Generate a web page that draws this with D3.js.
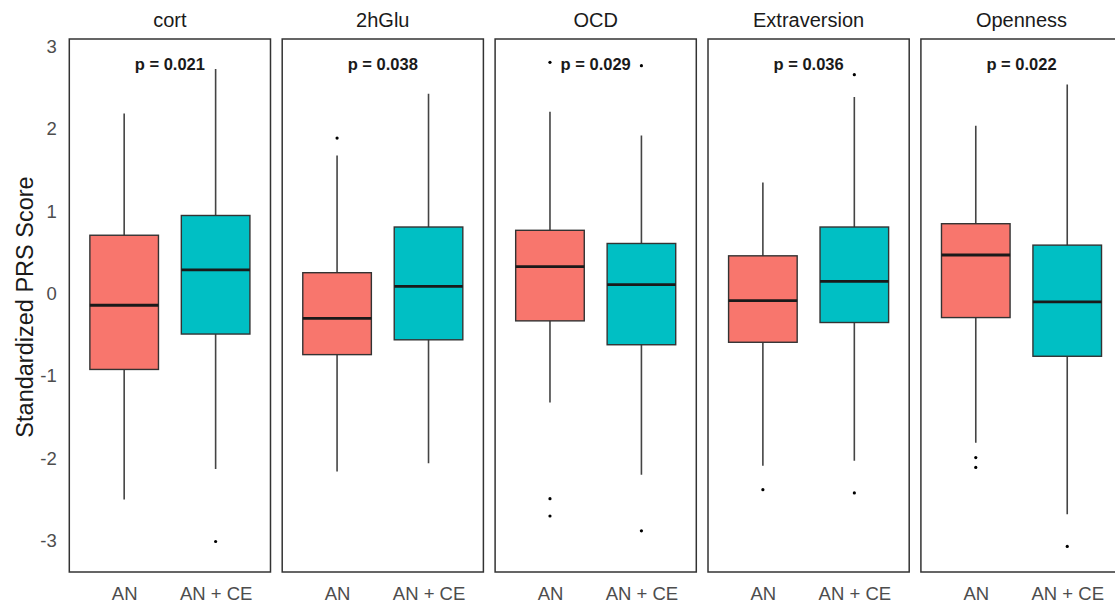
<!DOCTYPE html>
<html>
<head>
<meta charset="utf-8">
<script src="https://cdn.jsdelivr.net/npm/d3@7"></script>
<style>
  html, body { margin: 0; padding: 0; background: #fff; }
  svg { display: block; font-family: "Liberation Sans", Arial, sans-serif; }
</style>
</head>
<body>
<svg id="chart" width="1115" height="605"></svg>
<script>
// Facet panels and groups
const panels = ["cort", "2hGlu", "OCD", "Extraversion", "Openness"];
const groups = ["AN", "AN + CE"];
const pLabels = ["p = 0.021", "p = 0.038", "p = 0.029", "p = 0.036", "p = 0.022"];
const yTicks = [-3, -2, -1, 0, 1, 2, 3];

// AN box statistics per panel
const anLower  = [-2.50, -2.16, -1.32, -2.09, -1.81];
const anQ1     = [-0.92, -0.74, -0.33, -0.59, -0.29];
const anMedian = [-0.14, -0.30,  0.33, -0.085, 0.47];
const anQ3     = [ 0.71,  0.255, 0.77,  0.46,  0.85];
const anUpper  = [ 2.19,  1.68,  2.21,  1.35,  2.04];
const anOutliers = [[], [1.89], [2.81, -2.49, -2.70], [-2.38], [-1.99, -2.11]];

// AN + CE box statistics per panel
const ceLower  = [-2.13, -2.06, -2.20, -2.03, -2.68];
const ceQ1     = [-0.49, -0.56, -0.62, -0.35, -0.76];
const ceMedian = [ 0.29,  0.09,  0.11,  0.15, -0.10];
const ceQ3     = [ 0.95,  0.81,  0.61,  0.81,  0.59];
const ceUpper  = [ 2.73,  2.43,  1.92,  2.39,  2.54];
const ceOutliers = [[-3.01], [], [2.77, -2.88], [2.66, -2.42], [-3.07]];

const fills = ["#F8766D", "#00BFC4"];

// Build one record per box
const boxes = [];
panels.forEach((p, i) => {
  boxes.push({panel: p, group: groups[0], lo: anLower[i], q1: anQ1[i], med: anMedian[i], q3: anQ3[i], hi: anUpper[i], out: anOutliers[i]});
  boxes.push({panel: p, group: groups[1], lo: ceLower[i], q1: ceQ1[i], med: ceMedian[i], q3: ceQ3[i], hi: ceUpper[i], out: ceOutliers[i]});
});

const svg = d3.select("#chart");

const panelTop = 39, panelBottom = 572;
const fx = d3.scaleBand().domain(panels).range([69.3, 1122.1]).paddingInner(0.055).paddingOuter(0);
const bw = fx.bandwidth();
const x = d3.scalePoint().domain(groups).range([0, bw]).padding(0.6);
const step = bw / 2.2;
const boxW = step * 0.75;
const y = d3.scaleLinear().domain([-3, 3]).range([540.7, 46.7]);
const color = d3.scaleOrdinal().domain(groups).range(fills);

// Y axis (labels only, plain hyphen for negatives)
const yAxis = svg.append("g")
  .attr("transform", `translate(${fx(panels[0])},0)`)
  .call(d3.axisLeft(y).tickValues(yTicks).tickSize(0).tickPadding(12.5).tickFormat(d => String(d)));
yAxis.select(".domain").remove();
yAxis.selectAll("text")
  .attr("fill", "#4D4D4D")
  .style("font-size", "18.5px")
  .style("font-family", "'Liberation Sans', Arial, sans-serif");

// Y axis title
svg.append("text")
  .attr("transform", `translate(33,307) rotate(-90)`)
  .attr("text-anchor", "middle")
  .attr("fill", "#1A1A1A")
  .style("font-size", "23.5px")
  .text("Standardized PRS Score");

const panelG = svg.selectAll("g.panel")
  .data(panels)
  .join("g")
  .attr("class", "panel")
  .attr("transform", d => `translate(${fx(d)},0)`);

// Strip titles
panelG.append("text")
  .attr("x", bw / 2)
  .attr("y", 27.3)
  .attr("text-anchor", "middle")
  .attr("fill", "#1A1A1A")
  .style("font-size", "20px")
  .text(d => d);

// X axis labels per panel
panelG.each(function() {
  const ax = d3.select(this).append("g")
    .attr("transform", `translate(0,${panelBottom})`)
    .call(d3.axisBottom(x).tickSize(0).tickPadding(15));
  ax.select(".domain").remove();
  ax.selectAll("text")
    .attr("fill", "#4D4D4D")
    .style("font-size", "18.5px")
    .style("font-family", "'Liberation Sans', Arial, sans-serif");
});

// Boxes
panelG.each(function(p) {
  const g = d3.select(this);
  const data = boxes.filter(b => b.panel === p);
  const bg = g.selectAll("g.box").data(data).join("g").attr("class", "box");

  bg.append("line")
    .attr("x1", d => x(d.group)).attr("x2", d => x(d.group))
    .attr("y1", d => y(d.hi)).attr("y2", d => y(d.lo))
    .attr("stroke", "#444444").attr("stroke-width", 1.6);

  bg.append("rect")
    .attr("x", d => x(d.group) - boxW / 2)
    .attr("width", boxW)
    .attr("y", d => y(d.q3))
    .attr("height", d => y(d.q1) - y(d.q3))
    .attr("fill", d => color(d.group))
    .attr("stroke", "#333333").attr("stroke-width", 1.4);

  bg.append("line")
    .attr("x1", d => x(d.group) - boxW / 2).attr("x2", d => x(d.group) + boxW / 2)
    .attr("y1", d => y(d.med)).attr("y2", d => y(d.med))
    .attr("stroke", "#1A1A1A").attr("stroke-width", 2.8);

  bg.selectAll("circle")
    .data(d => d.out.map(v => ({group: d.group, v})))
    .join("circle")
    .attr("cx", d => x(d.group))
    .attr("cy", d => y(d.v))
    .attr("r", 1.6)
    .attr("fill", "#000");
});

// p-value labels
panelG.append("text")
  .attr("x", bw / 2)
  .attr("y", 70)
  .attr("text-anchor", "middle")
  .attr("fill", "#1A1A1A")
  .style("font-size", "16.5px")
  .style("font-weight", "bold")
  .text((d, i) => pLabels[i]);

// Panel borders
panelG.append("rect")
  .attr("x", 0).attr("y", panelTop)
  .attr("width", bw).attr("height", panelBottom - panelTop)
  .attr("fill", "none")
  .attr("stroke", "#333333").attr("stroke-width", 1.5);
</script>
</body>
</html>
